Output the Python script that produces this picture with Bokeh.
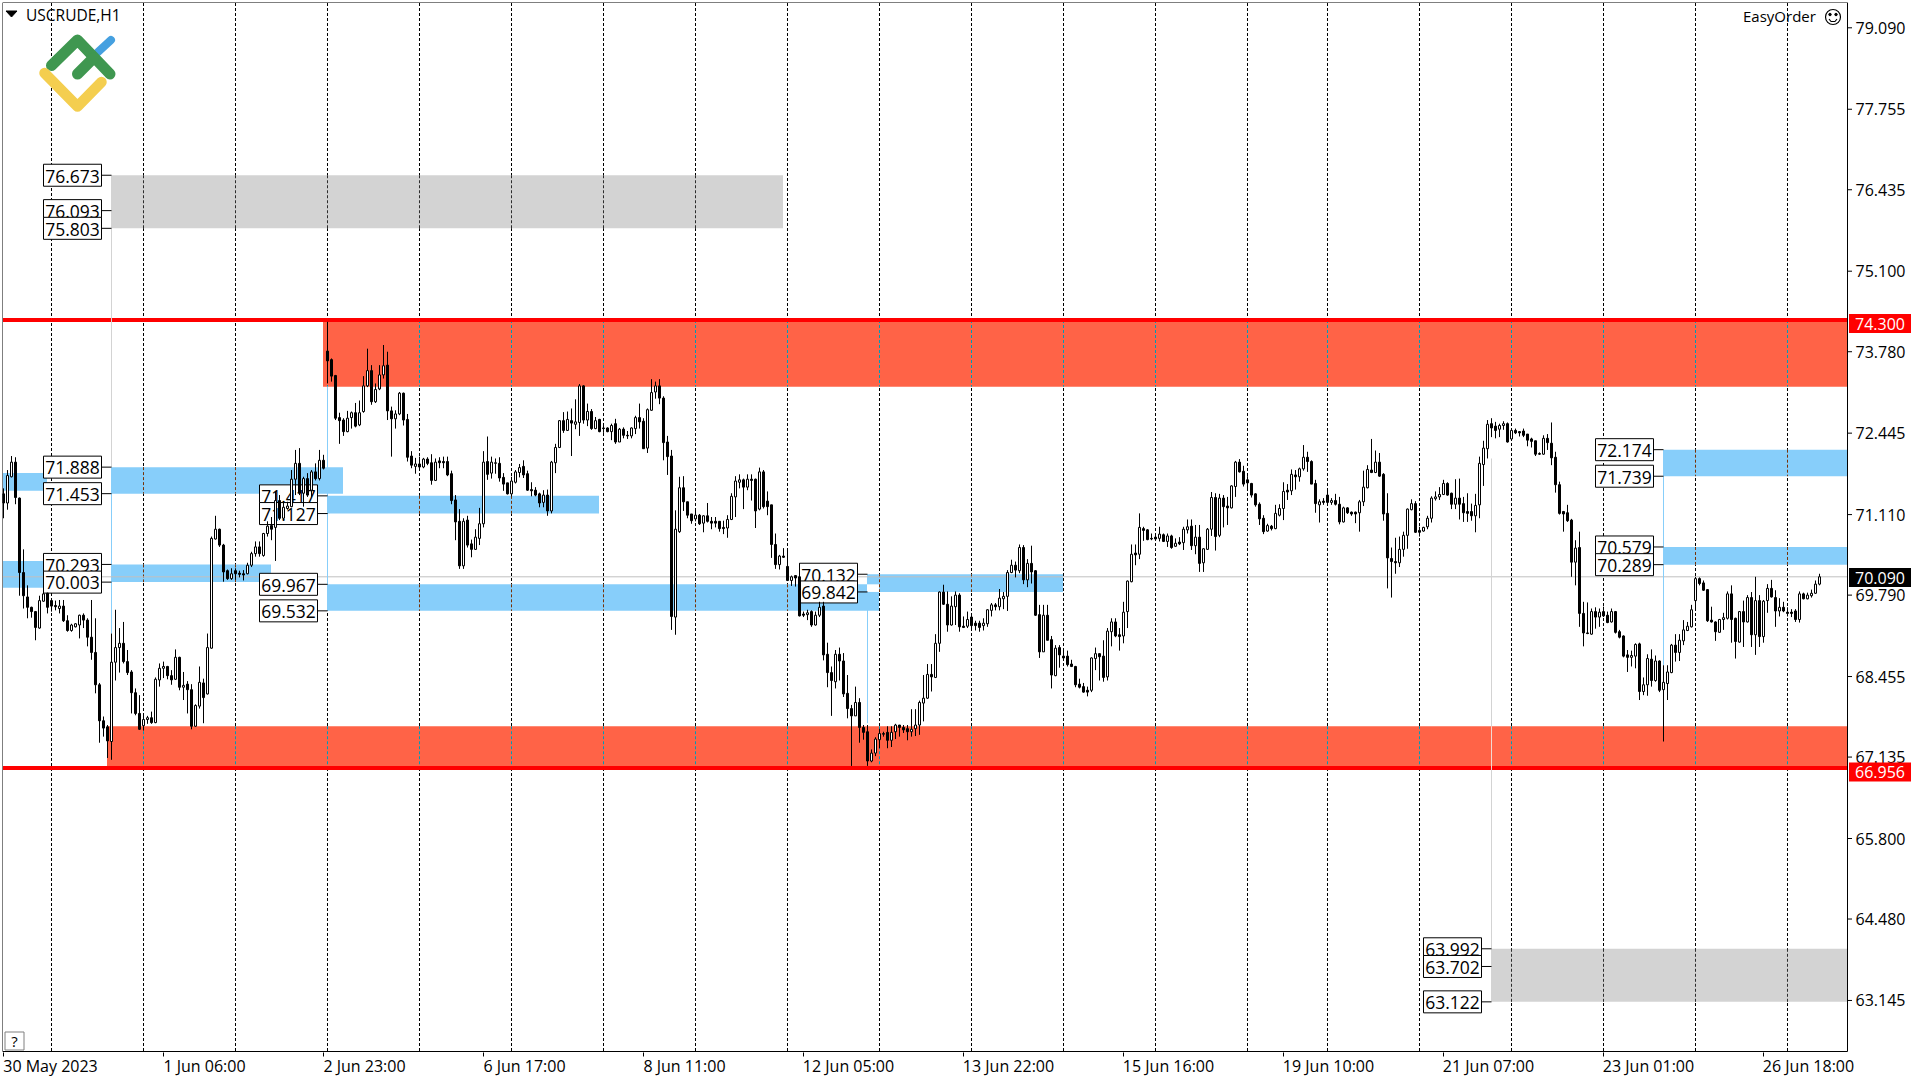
from bokeh.plotting import figure
from bokeh.models import FixedTicker, Range1d
from bokeh.core.properties import value
from bokeh.embed import file_html
from bokeh.resources import INLINE

opens = [
71.45,71.30,71.73,71.97,71.38,70.16,69.76,69.59,69.52,69.25,
69.69,69.82,69.70,69.62,69.57,69.61,69.37,69.21,69.27,69.30,
69.46,69.38,69.10,68.85,68.32,67.73,67.63,67.39,68.69,68.93,
69.00,68.70,68.53,68.19,67.85,67.65,67.75,67.78,67.70,68.40,
68.59,68.62,68.47,68.41,68.77,68.28,68.33,68.24,67.64,67.97,
68.35,68.17,68.92,70.71,70.87,70.61,70.19,70.06,70.19,70.15,
70.14,70.14,70.28,70.47,70.58,70.44,70.80,70.93,70.90,71.34,
71.05,71.21,71.24,71.69,71.95,71.46,71.70,71.51,71.81,71.70,
72.00,73.79,73.65,73.39,72.70,72.66,72.47,72.70,72.78,72.58,
72.80,73.22,73.47,72.96,73.17,73.40,73.56,72.81,72.68,72.76,
73.10,72.67,72.07,71.90,71.94,71.89,72.02,71.96,71.67,71.99,
71.98,71.98,71.78,71.35,71.00,70.27,71.02,70.63,70.54,70.72,
70.96,71.98,71.79,71.95,71.95,71.72,71.63,71.45,71.64,71.80,
71.90,71.78,71.52,71.51,71.45,71.31,71.43,71.17,71.96,72.21,
72.65,72.49,72.65,72.59,72.62,73.22,72.66,72.80,72.52,72.67,
72.53,72.53,72.47,72.60,72.30,72.51,72.41,72.40,72.52,72.70,
72.64,72.20,72.82,73.12,73.22,73.02,72.30,72.07,69.43,70.83,
71.55,71.32,71.12,71.04,71.10,70.97,71.09,71.00,71.00,71.00,
70.90,70.89,71.03,71.40,71.64,71.68,71.56,71.69,71.69,71.20,
71.81,71.33,71.27,70.62,70.29,70.43,70.26,70.03,70.11,70.09,
69.48,69.47,69.52,69.30,69.46,69.61,68.82,68.52,68.37,68.82,
68.71,68.18,67.93,67.81,68.03,67.62,67.55,67.07,67.20,67.42,
67.52,67.54,67.41,67.55,67.66,67.62,67.60,67.55,67.60,67.66,
68.02,68.10,68.49,68.44,69.00,69.84,69.64,69.30,69.60,69.79,
69.28,69.28,69.43,69.33,69.33,69.29,69.32,69.54,69.63,69.60,
69.73,69.77,70.16,70.28,70.19,70.57,70.04,70.31,70.19,69.47,
68.86,69.46,69.06,68.47,68.93,68.79,68.79,68.66,68.62,68.33,
68.29,68.23,68.23,68.75,68.83,68.79,68.45,69.19,69.35,69.14,
69.12,69.52,70.01,70.48,70.46,70.88,70.86,70.72,70.74,70.72,
70.78,70.67,70.76,70.59,70.66,70.65,70.86,70.92,70.60,70.74,
70.32,70.54,70.87,71.39,70.77,71.38,71.25,71.22,71.57,71.97,
71.82,71.68,71.62,71.45,71.28,71.05,70.84,70.92,70.88,71.10,
71.21,71.51,71.50,71.76,71.73,71.86,72.05,71.98,71.62,71.27,
71.33,71.43,71.31,71.34,71.28,70.99,71.22,71.15,71.15,71.14,
71.32,71.55,71.84,71.80,71.97,71.77,71.13,70.39,70.34,70.32,
70.54,70.77,71.19,71.29,70.85,70.84,70.91,71.05,71.37,71.40,
71.44,71.62,71.46,71.28,71.38,71.29,71.16,71.16,71.09,71.27,
71.93,72.19,72.60,72.56,72.51,72.57,72.60,72.35,72.49,72.47,
72.48,72.43,72.35,72.32,72.11,72.10,72.36,72.28,72.05,71.60,
71.16,71.14,71.02,70.33,70.57,69.49,69.17,69.15,69.52,69.43,
69.52,69.46,69.35,69.52,69.19,69.12,68.81,68.77,68.79,68.99,
68.21,68.32,68.74,68.39,68.71,68.24,68.34,68.52,68.97,68.85,
69.04,69.21,69.27,69.70,70.06,69.99,69.88,69.38,69.35,69.18,
69.39,69.41,69.81,69.41,69.02,69.52,69.35,69.75,69.14,69.70,
69.11,69.70,69.90,69.75,69.53,69.59,69.51,69.51,69.53,69.39,
69.81,69.73,69.78,69.82,69.97,
]

closes = [
71.30,71.75,71.97,71.39,70.16,69.78,69.59,69.52,69.26,69.70,
69.81,69.59,69.61,69.60,69.61,69.37,69.21,69.30,69.32,69.46,
69.38,69.10,68.85,68.32,67.73,67.61,67.40,68.69,68.93,69.00,
68.70,68.52,68.19,67.85,67.59,67.75,67.78,67.70,68.41,68.59,
68.62,68.47,68.40,68.77,68.28,68.31,68.24,67.64,67.98,68.36,
68.11,68.93,70.72,70.87,70.61,70.17,70.06,70.14,70.14,70.13,
70.12,70.28,70.47,70.58,70.47,70.80,70.92,70.87,71.34,71.05,
71.23,71.25,71.69,71.95,71.46,71.70,71.43,71.81,71.70,72.00,
71.87,73.63,73.38,72.69,72.65,72.47,72.69,72.78,72.56,72.78,
73.22,73.47,72.96,73.16,73.40,73.55,72.81,72.68,72.76,73.10,
72.66,72.05,71.92,71.94,71.89,72.02,71.95,71.67,71.97,71.96,
71.96,71.76,71.34,70.99,70.27,71.00,70.61,70.54,70.74,70.96,
71.97,71.77,71.97,71.96,71.71,71.61,71.45,71.66,71.81,71.88,
71.76,71.51,71.50,71.43,71.30,71.43,71.17,71.97,72.21,72.65,
72.49,72.67,72.61,72.63,73.22,72.66,72.80,72.52,72.65,72.47,
72.52,72.47,72.57,72.30,72.51,72.41,72.40,72.53,72.70,72.63,
72.19,72.83,73.11,73.22,73.02,72.29,72.06,69.44,70.87,71.55,
71.32,71.10,71.01,71.10,70.96,71.09,71.00,70.97,70.97,70.88,
70.88,71.03,71.41,71.66,71.68,71.56,71.69,71.67,71.17,71.81,
71.24,71.24,70.62,70.29,70.43,70.41,70.03,70.09,70.07,69.45,
69.46,69.50,69.30,69.46,69.59,68.81,68.52,68.39,68.82,68.71,
68.17,67.93,67.81,68.03,67.62,67.54,67.07,67.20,67.43,67.52,
67.51,67.41,67.54,67.66,67.62,67.58,67.55,67.59,67.66,68.03,
68.10,68.49,68.45,69.00,69.84,69.64,69.30,69.61,69.79,69.27,
69.26,69.39,69.29,69.29,69.26,69.33,69.55,69.63,69.60,69.74,
69.77,70.16,70.28,70.20,70.57,70.04,70.31,70.17,69.46,68.86,
69.46,69.05,68.48,68.92,68.81,68.76,68.65,68.62,68.32,68.28,
68.20,68.20,68.76,68.83,68.78,68.44,69.20,69.35,69.12,69.11,
69.51,70.02,70.46,70.45,70.90,70.85,70.70,70.71,70.71,70.79,
70.67,70.76,70.57,70.64,70.63,70.87,70.91,70.60,70.74,70.31,
70.55,70.87,71.39,70.75,71.38,71.24,71.22,71.58,71.97,71.81,
71.61,71.63,71.43,71.27,71.04,70.83,70.93,70.88,71.13,71.21,
71.49,71.48,71.77,71.73,71.86,72.05,71.98,71.61,71.29,71.32,
71.31,71.31,71.34,71.28,70.99,71.22,71.14,71.12,71.12,71.32,
71.56,71.85,71.80,71.97,71.74,71.12,70.40,70.34,70.32,70.54,
70.77,71.20,71.29,70.82,70.82,70.90,71.05,71.38,71.40,71.44,
71.62,71.43,71.28,71.38,71.28,71.14,71.13,71.09,71.26,71.95,
72.20,72.59,72.53,72.49,72.57,72.60,72.30,72.49,72.45,72.45,
72.41,72.33,72.31,72.10,72.10,72.36,72.29,72.04,71.60,71.13,
71.12,71.01,70.33,70.56,69.49,69.17,69.16,69.52,69.43,69.51,
69.45,69.34,69.52,69.18,69.10,68.79,68.77,68.80,68.98,68.21,
68.32,68.75,68.39,68.71,68.23,68.36,68.53,68.97,68.85,69.05,
69.22,69.28,69.55,70.06,69.98,69.87,69.37,69.35,69.19,69.39,
69.42,69.81,69.39,69.03,69.52,69.35,69.75,69.14,69.70,69.11,
69.69,69.90,69.76,69.53,69.59,69.53,69.49,69.49,69.39,69.81,
69.73,69.79,69.82,69.97,70.09,
]

highs = [
71.54,71.84,72.07,72.05,71.39,70.54,69.95,69.60,69.53,69.78,
69.85,69.83,69.71,69.70,69.71,69.71,69.46,69.32,69.33,69.47,
69.49,69.41,69.71,69.41,68.35,67.80,67.66,69.16,69.55,69.25,
69.35,68.89,68.56,68.26,68.15,67.85,67.81,67.88,68.44,68.67,
68.70,68.63,68.56,68.90,68.78,68.53,68.38,68.33,68.00,68.62,
68.42,69.16,70.75,71.09,70.88,70.63,70.21,70.23,70.23,70.19,
70.20,70.32,70.50,70.67,70.67,70.81,71.00,71.07,71.49,71.43,
71.32,71.32,71.84,72.17,72.20,71.73,71.79,71.84,71.95,72.17,
72.09,74.27,73.67,73.40,72.78,72.69,72.81,72.80,72.94,72.98,
73.38,73.83,73.56,73.26,73.56,73.89,73.78,72.88,72.82,73.12,
73.11,72.76,72.15,72.04,72.06,72.04,72.05,72.10,72.03,72.05,
72.06,72.06,71.83,71.43,71.20,71.05,71.09,70.70,70.87,71.22,
72.15,72.39,72.06,72.03,72.05,71.79,71.63,71.73,71.84,71.94,
72.00,71.83,71.64,71.56,71.47,71.51,71.52,71.99,72.27,72.66,
72.79,72.80,72.85,73.00,73.25,73.23,72.93,72.84,72.71,72.68,
72.60,72.54,72.60,72.68,72.53,72.54,72.48,72.54,72.73,72.93,
72.69,72.85,73.33,73.29,73.33,73.05,72.40,72.17,71.18,71.73,
71.74,71.32,71.12,71.19,71.12,71.10,71.30,71.07,71.07,71.00,
71.01,71.10,71.46,71.74,71.77,71.70,71.77,71.77,71.70,71.88,
71.84,71.49,71.27,70.80,70.45,70.56,70.55,70.11,70.11,70.31,
69.52,69.55,69.54,69.52,69.68,69.68,69.01,68.62,68.89,68.93,
68.84,68.48,67.99,68.29,68.10,67.66,67.66,67.26,67.46,67.60,
67.55,67.64,67.64,67.68,67.66,67.66,67.66,67.92,67.92,68.06,
68.48,68.66,68.66,69.15,69.85,69.96,69.85,69.77,69.85,69.82,
69.44,69.52,69.45,69.37,69.37,69.41,69.56,69.66,69.66,69.89,
69.84,70.20,70.37,70.34,70.62,70.61,70.38,70.60,70.20,69.63,
69.63,69.63,69.12,68.97,68.97,68.88,68.88,68.73,68.63,68.42,
68.35,68.29,68.77,68.93,68.83,69.05,69.25,69.41,69.41,69.25,
69.68,70.03,70.62,70.62,71.13,70.91,70.87,70.80,70.76,70.91,
70.80,70.80,70.78,70.72,70.74,70.91,71.03,71.03,70.94,70.94,
70.56,70.89,71.48,71.46,71.45,71.43,71.40,71.59,71.99,72.02,
71.91,71.74,71.63,71.46,71.31,71.10,70.96,70.94,71.27,71.28,
71.64,71.61,71.85,71.84,71.88,72.25,72.14,72.00,71.68,71.36,
71.38,71.52,71.38,71.45,71.40,71.24,71.23,71.16,71.16,71.35,
71.83,71.92,72.35,72.16,72.12,71.79,71.46,70.57,70.73,70.75,
70.83,71.21,71.36,71.33,70.91,70.91,71.09,71.41,71.49,71.56,
71.68,71.64,71.47,71.69,71.70,71.40,71.46,71.29,71.45,72.06,
72.32,72.66,72.69,72.63,72.60,72.64,72.62,72.52,72.52,72.48,
72.52,72.43,72.37,72.32,72.13,72.41,72.43,72.62,72.14,71.65,
71.17,71.27,71.04,70.69,70.83,69.68,69.67,69.57,69.59,69.57,
69.60,69.52,69.57,69.53,69.22,69.13,68.89,68.88,69.00,69.01,
68.44,68.82,68.90,68.80,68.72,68.64,68.64,68.99,69.15,69.15,
69.38,69.35,69.63,70.09,70.08,70.03,69.89,69.60,69.36,69.40,
69.50,69.85,69.95,69.42,69.53,69.70,69.79,69.84,70.09,69.79,
69.71,69.97,70.04,69.87,69.74,69.68,69.59,69.56,69.56,69.85,
69.83,69.83,69.88,70.03,70.14,
]

lows = [
71.05,71.19,71.72,71.28,69.78,69.57,69.41,69.42,69.05,69.24,
69.68,69.49,69.52,69.54,69.49,69.35,69.19,69.19,69.26,69.08,
69.25,68.95,68.73,68.18,67.37,67.47,67.12,67.09,68.39,68.52,
68.67,68.48,67.85,67.82,67.58,67.57,67.68,67.68,67.69,68.29,
68.43,68.41,68.32,68.40,68.23,68.07,67.85,67.59,67.63,67.93,
67.69,68.16,68.91,70.70,70.58,70.01,70.04,70.04,70.04,70.08,
70.03,70.13,70.25,70.42,70.42,70.42,70.75,70.69,70.35,71.02,
71.02,71.19,71.23,71.43,71.43,71.24,71.40,71.40,71.67,71.67,
71.85,73.26,73.29,72.66,72.27,72.40,72.46,72.52,72.54,72.56,
72.78,73.20,72.91,72.94,73.15,73.34,72.66,72.06,72.52,72.74,
72.57,71.98,71.87,71.78,71.84,71.87,71.92,71.60,71.66,71.87,
71.87,71.74,71.28,70.69,70.22,70.22,70.57,70.41,70.53,70.61,
70.90,71.68,71.70,71.78,71.65,71.50,71.44,71.41,71.62,71.72,
71.71,71.50,71.41,71.41,71.23,71.23,71.09,71.13,71.79,72.20,
72.45,72.48,72.07,72.51,72.40,72.60,72.56,72.50,72.51,72.46,
72.45,72.46,72.33,72.27,72.30,72.36,72.35,72.36,72.43,72.52,
72.19,72.12,72.81,73.01,72.92,72.00,71.76,69.22,69.14,70.81,
71.17,71.05,70.96,71.00,70.94,70.82,70.98,70.87,70.90,70.83,
70.79,70.73,71.02,71.07,71.54,71.20,71.51,71.34,70.89,71.18,
71.21,71.10,70.40,70.22,70.21,70.40,70.02,69.94,69.93,69.44,
69.43,69.38,69.27,69.29,69.43,68.72,68.28,67.81,68.26,68.39,
68.12,67.77,66.99,67.81,67.37,67.42,66.99,67.05,67.15,67.28,
67.47,67.28,67.30,67.43,67.47,67.53,67.41,67.47,67.48,67.50,
67.72,68.09,68.21,68.43,68.86,69.63,69.19,69.29,69.30,69.19,
69.25,69.25,69.25,69.21,69.19,69.21,69.27,69.44,69.54,69.54,
69.56,69.53,70.15,70.08,70.15,69.97,69.92,69.98,69.45,68.76,
68.86,69.05,68.26,68.46,68.60,68.75,68.62,68.61,68.28,68.26,
68.19,68.13,68.20,68.56,68.39,68.37,68.39,68.95,69.10,68.88,
69.00,69.25,70.00,70.28,70.38,70.68,70.69,70.69,70.69,70.67,
70.66,70.58,70.55,70.58,70.61,70.53,70.80,70.53,70.46,70.17,
70.17,70.53,70.76,70.52,70.74,70.90,70.94,71.21,71.40,71.80,
71.57,71.50,71.39,71.24,70.94,70.79,70.83,70.85,70.87,71.08,
71.02,71.35,71.43,71.52,71.65,71.83,71.81,71.61,71.14,70.98,
71.27,71.29,71.27,71.26,70.95,70.98,71.12,71.09,70.97,70.83,
71.25,71.54,71.79,71.79,71.73,71.01,69.90,69.75,70.14,70.25,
70.42,70.55,71.18,70.81,70.75,70.83,70.87,70.98,71.34,71.35,
71.43,71.42,71.20,71.20,71.03,70.99,70.99,71.01,70.82,71.05,
71.58,72.03,72.38,72.36,72.38,72.50,72.29,72.34,72.43,72.39,
72.38,72.23,72.21,72.07,72.09,72.09,72.17,71.92,71.47,71.11,
70.83,70.99,70.09,69.95,69.27,68.95,69.15,69.14,69.24,69.27,
69.43,69.33,69.34,69.16,69.08,68.77,68.53,68.62,68.59,68.07,
68.15,68.14,68.29,68.37,68.20,67.39,68.07,68.51,68.70,68.71,
68.97,69.20,69.26,69.53,69.95,69.86,69.35,69.34,69.04,69.17,
69.22,69.39,69.01,68.75,69.01,68.94,69.34,68.94,68.81,68.94,
69.01,69.50,69.75,69.27,69.44,69.51,69.44,69.43,69.35,69.34,
69.72,69.72,69.75,69.81,69.95,
]

y_ticks = [79.09, 77.755, 76.435, 75.10, 73.78, 72.445, 71.11, 69.79, 68.455, 67.135, 65.80, 64.48, 63.145]
y_labels = ["79.090", "77.755", "76.435", "75.100", "73.780", "72.445", "71.110", "69.790", "68.455", "67.135", "65.800", "64.480", "63.145"]
x_tick_bars = [0, 40, 80, 120, 160, 200, 240, 280, 320, 360, 400, 440]
x_labels = ["30 May 2023", "1 Jun 06:00", "2 Jun 23:00", "6 Jun 17:00", "8 Jun 11:00", "12 Jun 05:00",
            "13 Jun 22:00", "15 Jun 16:00", "19 Jun 10:00", "21 Jun 07:00", "23 Jun 01:00", "26 Jun 18:00"]
grid_bars = [12, 35, 58, 81, 104, 127, 150, 173, 196, 219, 242, 265, 288, 311, 331, 354, 377, 400, 423, 446]

resistance, support, last_price = 74.30, 66.956, 70.09
# zones: first bar, last bar (None = chart edge), top price, bottom price
red_zones = [(80, None, 74.30, 73.207), (26, None, 67.64, 66.956)]
gray_zones = [(27, 195, 76.673, 75.803), (372, None, 63.992, 63.122)]
blue_zones = [(0, 11, 71.79, 71.50), (0, 15, 70.35, 69.91), (27, 85, 71.888, 71.453), (27, 67, 70.293, 70.003),
              (81, 149, 71.417, 71.127), (81, 219, 69.967, 69.532), (216, 265, 70.132, 69.842),
              (415, None, 72.174, 71.739), (415, None, 70.579, 70.289)]
xor_patch = (216, 219, 69.967, 69.842)
# connector lines: bar, from price, to price, colour
connectors = [(27, 75.803, 71.888, "#D3D3D3"), (27, 71.453, 70.293, "#87CEFA"), (27, 70.003, 69.16, "#87CEFA"),
              (81, 73.207, 71.417, "#87CEFA"), (81, 71.127, 69.967, "#87CEFA"),
              (216, 69.842, 67.69, "#87CEFA"),
              (372, 72.03, 67.64, "#D3D3D3"), (372, 67.64, 66.956, "#F2D9D2"), (372, 66.956, 63.992, "#D3D3D3"),
              (415, 71.739, 70.579, "#87CEFA"), (415, 70.289, 68.64, "#87CEFA")]
price_tags = [(27, [76.673, 76.093, 75.803, 71.888, 71.453, 70.293, 70.003]),
              (81, [71.417, 71.127, 69.967, 69.532]),
              (216, [70.132, 69.842]),
              (372, [63.992, 63.702, 63.122]),
              (415, [72.174, 71.739, 70.579, 70.289])]

FONT = "Open Sans"
def xk(px): return (px - 3.5) / 4.0
def yv(py): return 74.3 - (py - 320.0) / 61.0
XL, XR = xk(3), xk(1847)           # plotting area inside the black border
YB, YT = yv(1051), yv(3)
PY = 1 / 61.0                      # one pixel in price

p = figure(width=1920, height=1080, frame_width=1918, frame_height=1050, output_backend="svg", toolbar_location=None,
           x_range=Range1d(xk(2.5), xk(1920.5)), y_range=Range1d(yv(1052.5), yv(2.5)), y_axis_location="right",
           min_border_left=2, min_border_right=0, min_border_top=2, min_border_bottom=28,
           background_fill_color="white", border_fill_color="white", outline_line_color=None)
p.grid.visible = False

# the price axis sits at the canvas edge; its labels are stood back over the strip right of the border
ya = p.yaxis[0]
ya.ticker = FixedTicker(ticks=y_ticks)
ya.major_label_overrides = dict(zip(y_ticks, y_labels))
ya.major_tick_in, ya.major_tick_out = 0, 0
ya.minor_tick_line_color = None
ya.major_label_standoff = -65
ya.major_label_text_font = FONT
ya.major_label_text_font_size = "16px"
ya.major_label_text_color = "black"
ya.axis_line_color = None
ya.major_tick_line_color = None

# the time labels start at their tick: tick marks are the axis's minor ticks, labels are centred right of them
GLYPH_W = {" ": 4.2, ":": 4.3, "J": 4.4, "u": 9.8, "n": 9.8, "M": 14.5, "a": 8.8, "y": 8.0}
def label_width(t): return sum(GLYPH_W.get(c, 9.15) for c in t)
label_centres = [b + round((label_width(t) / 2 - 0.5)) / 4 for b, t in zip(x_tick_bars, x_labels)]
xa = p.xaxis[0]
xa.ticker = FixedTicker(ticks=label_centres, minor_ticks=x_tick_bars)
xa.major_label_overrides = dict(zip(label_centres, x_labels))
xa.major_tick_in, xa.major_tick_out = 0, 0
xa.major_tick_line_color = None
xa.minor_tick_in, xa.minor_tick_out = 0, 4
xa.minor_tick_line_color = "black"
xa.major_label_standoff = -2
xa.major_label_text_font = FONT
xa.major_label_text_font_size = "16px"
xa.major_label_text_color = "black"
xa.axis_line_color = None

# grid first; zones hide it and the inverted dashes are drawn back on the zones
p.segment(grid_bars, [YB] * len(grid_bars), grid_bars, [YT] * len(grid_bars), line_color="black", line_dash="3 2", line_width=1)

def draw_zones(zones, colour, dash):
    for a, b, top, bottom in zones:
        right = XR if b is None else b - 0.125
        p.quad(left=a - 0.125 if a else XL, right=right, top=top, bottom=bottom, fill_color=colour, line_color=None)
    for a, b, top, bottom in zones:
        right = XR if b is None else b
        xs = [g for g in grid_bars if a < g < right]
        if xs:
            p.segment(xs, [top] * len(xs), xs, [bottom] * len(xs), line_color=dash, line_dash="3 2", line_width=1)

draw_zones(gray_zones, "#D3D3D3", "#2C2C2C")
draw_zones(red_zones, "#FF6347", "#009CB8")
draw_zones(blue_zones, "#87CEFA", "#783105")
p.quad(left=xor_patch[0] - 0.125, right=xor_patch[1] - 0.125, top=xor_patch[2], bottom=xor_patch[3], fill_color="white", line_color=None)

p.segment([XL], [last_price], [XR], [last_price], line_color="#C0C0C0", line_width=1)
for level in (resistance, support):
    p.segment([XL], [level], [XR], [level], line_color="#FF0000", line_width=4)

for bar, y0, y1, colour in connectors:
    p.segment([bar], [y0], [bar], [y1], line_color=colour, line_width=1)

for bar, prices in price_tags:
    for v in prices:
        p.segment([bar - 2.5], [v], [bar], [v], line_color="black", line_width=1)
        p.quad(left=bar - 17, right=bar - 2.5, top=v + 11 * PY, bottom=v - 11 * PY, fill_color="white", line_color="black", line_width=1)
        p.text([bar - 9.75], [v - 0.8 * PY], text=[f"{v:.3f}"], text_font=value(FONT), text_font_size="17.5px",
               text_align="center", text_baseline="middle", text_color="black")

# candles
bars = list(range(len(opens)))
p.segment(bars, lows, bars, highs, line_color="black", line_width=1)
up = [i for i in bars if closes[i] >= opens[i]]
dn = [i for i in bars if closes[i] < opens[i]]
p.vbar(x=up, width=0.5, top=[closes[i] for i in up], bottom=[opens[i] for i in up], fill_color="white", line_color="black", line_width=1)
p.vbar(x=dn, width=0.5, top=[opens[i] for i in dn], bottom=[closes[i] for i in dn], fill_color="black", line_color="black", line_width=1)

# black border of the chart window and the price tick marks
p.segment([xk(2.5), xk(2.5), xk(2.5), xk(1847.5)], [yv(2.5), yv(1051.5), yv(2.5), yv(2.5)],
          [xk(1847.5), xk(1847.5), xk(2.5), xk(1847.5)], [yv(2.5), yv(1051.5), yv(1051.5), yv(1051.5)],
          line_color="black", line_width=1)
p.segment([xk(1847.5)] * len(y_ticks), y_ticks, [xk(1852)] * len(y_ticks), y_ticks, line_color="black", line_width=1)

# header items
p.text([xk(26)], [yv(15)], text=["USCRUDE,H1"], text_font=value(FONT), text_font_size="15.5px",
       text_align="left", text_baseline="middle", text_color="black")
p.patch([xk(6), xk(17), xk(11.5)], [yv(11), yv(11), yv(17)], fill_color="black", line_color="black", line_width=1)
p.text([xk(1743)], [yv(16)], text=["EasyOrder"], text_font=value(FONT), text_font_size="15px",
       text_align="left", text_baseline="middle", text_color="black")
p.scatter([xk(1833)], [yv(17)], size=15, marker="circle", fill_color="white", line_color="black", line_width=1.2)
p.scatter([xk(1830), xk(1836)], [yv(14.5), yv(14.5)], size=2.5, marker="circle", fill_color="black", line_color="black")
p.line([xk(1829), xk(1831), xk(1835), xk(1837)], [yv(19), yv(21.5), yv(21.5), yv(19)], line_color="black", line_width=1.2)

# logo
logo_blue = [(98, 52), (111, 40)]
logo_green_a = [(51.5, 65.5), (77.5, 40), (110, 74)]
logo_green_b = [(77.5, 74), (93.5, 58)]
logo_yellow = [(44.5, 73), (77.5, 106.5), (101.5, 82)]
for pts, col, w in ((logo_blue, "#45A0E0", 8), (logo_green_a, "#3F9750", 11), (logo_green_b, "#3F9750", 11), (logo_yellow, "#F4CE4F", 10.5)):
    p.line([xk(a) for a, b in pts], [yv(b) for a, b in pts], line_color=col, line_width=w, line_cap="round", line_join="round")

# help box
p.quad(left=xk(5), right=xk(24), top=yv(1032), bottom=yv(1050), fill_color="white", line_color="#808080", line_width=1)
p.text([xk(14.5)], [yv(1041)], text=["?"], text_font=value(FONT), text_font_size="15px",
       text_align="center", text_baseline="middle", text_color="black")

# price tags on the axis strip, above the axis labels
for v, bg, py in ((resistance, "#FF0000", 323.5), (support, "#FF0000", 772), (last_price, "black", 577.5)):
    p.quad(left=xk(1849), right=xk(1911), top=yv(py - 9.5), bottom=yv(py + 9.5), fill_color=bg, line_color=None, level="overlay")
    p.text([xk(1855)], [yv(py)], text=[f"{v:.3f}"], text_font=value(FONT), text_font_size="16px", text_color="white",
           text_align="left", text_baseline="middle", level="overlay")

open("out.html", "w").write(file_html(p, INLINE))
